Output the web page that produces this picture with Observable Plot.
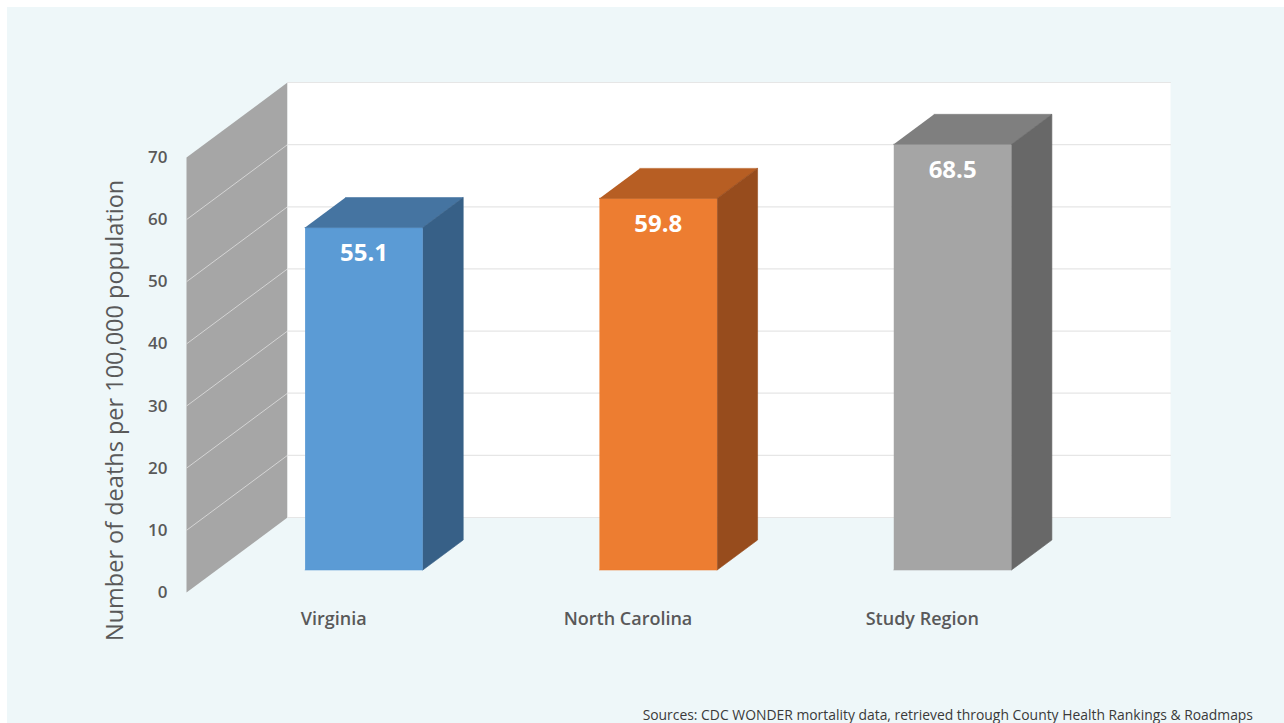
<!DOCTYPE html>
<html>
<head>
<meta charset="utf-8">
<script src="https://cdn.jsdelivr.net/npm/d3@7"></script>
<script src="https://cdn.jsdelivr.net/npm/@observablehq/plot@0.6"></script>
<style>
  html, body { margin: 0; padding: 0; background: #ffffff; }
  #panel { position: absolute; left: 7px; top: 7px; width: 1277px; height: 716px; background: #EEF7F9; }
  #chart { position: absolute; left: 0; top: 0; }
  #caption { position: absolute; right: 31px; top: 706px; font-family: "Open Sans", sans-serif; font-size: 13.9px; line-height: 18px; color: #3A3A3A; white-space: nowrap; }
</style>
</head>
<body>
<div id="panel"></div>
<div id="chart"></div>
<div id="caption">Sources: CDC WONDER mortality data, retrieved through County Health Rankings &amp; Roadmaps</div>
<script>
// ---- data ----
const categories = ["Virginia", "North Carolina", "Study Region"];
const values = [55.1, 59.8, 68.5];
const yTicks = [0, 10, 20, 30, 40, 50, 60, 70];
const yTitle = "Number of deaths per 100,000 population";
const frontColors = ["#5B9BD5", "#ED7D31", "#A5A5A5"];
const topColors = ["#4574A1", "#B75E23", "#7F7F7F"];
const sideColors = ["#376087", "#974C1D", "#686868"];

// ---- geometry (3D look) ----
const X_RANGE = [186, 1069];
const Y_RANGE = [592, 157];
const Y_MAX = 70;
const DEPTH_PX = [101, 75];        // full depth offset of the back wall, in px
const kx = (X_RANGE[1] - X_RANGE[0]) / categories.length;
const ky = (Y_RANGE[0] - Y_RANGE[1]) / Y_MAX;
const DX = DEPTH_PX[0] / kx;       // depth in x data units
const DY = DEPTH_PX[1] / ky;       // depth in y data units
const BAR_W = 0.4;
const D_FRONT = 0.3, D_BACK = 0.7;
const proj = (x, v, d) => ({x: x + d * DX, y: v + d * DY});

// polygons
const polys = [];
function addPoly(id, color, pts) {
  pts.forEach(p => polys.push({id, color, x: p.x, y: p.y}));
}
// side wall
addPoly("sidewall", "#A6A6A6", [proj(0, 0, 0), proj(0, Y_MAX, 0), proj(0, Y_MAX, 1), proj(0, 0, 1)]);
// back wall
addPoly("backwall", "#FFFFFF", [proj(0, 0, 1), proj(categories.length, 0, 1), proj(categories.length, Y_MAX, 1), proj(0, Y_MAX, 1)]);

// bars
const barRows = [];
categories.forEach((c, i) => {
  const v = values[i];
  const x1 = i + 0.5 - BAR_W / 2, x2 = i + 0.5 + BAR_W / 2;
  addPoly(c + "-front", frontColors[i], [proj(x1, 0, D_FRONT), proj(x2, 0, D_FRONT), proj(x2, v, D_FRONT), proj(x1, v, D_FRONT)]);
  addPoly(c + "-top", topColors[i], [proj(x1, v, D_FRONT), proj(x2, v, D_FRONT), proj(x2, v, D_BACK), proj(x1, v, D_BACK)]);
  addPoly(c + "-side", sideColors[i], [proj(x2, 0, D_FRONT), proj(x2, 0, D_BACK), proj(x2, v, D_BACK), proj(x2, v, D_FRONT)]);
  const lp = proj(i + 0.5, v, D_FRONT);
  barRows.push({x: lp.x, y: lp.y, text: v.toFixed(1)});
});

const wallPolys = polys.filter(p => p.id === "sidewall" || p.id === "backwall");
const barPolys = polys.filter(p => p.id !== "sidewall" && p.id !== "backwall");

// gridlines
const sideGrid = [], backGrid = [];
yTicks.forEach(t => {
  if (t > 0 && t < Y_MAX) {
    [proj(0, t, 0), proj(0, t, 1)].forEach(p => sideGrid.push({id: t, ...p}));
  }
  [proj(0, t, 1), proj(categories.length, t, 1)].forEach(p => backGrid.push({id: t, ...p}));
});

const font = '"Open Sans", sans-serif';

const chart = Plot.plot({
  width: 1284,
  height: 700,
  style: {background: "transparent", fontFamily: font},
  x: {type: "linear", domain: [0, categories.length], range: X_RANGE, axis: null},
  y: {type: "linear", domain: [0, Y_MAX], range: Y_RANGE, axis: null},
  color: {type: "identity"},
  marks: [
    Plot.line(wallPolys.filter(p => p.id === "sidewall"), {x: "x", y: "y", z: "id", fill: "color", stroke: "none"}),
    Plot.line(sideGrid, {x: "x", y: "y", z: "id", stroke: "#D4D4D4", strokeWidth: 1}),
    Plot.line(wallPolys.filter(p => p.id === "backwall"), {x: "x", y: "y", z: "id", fill: "color", stroke: "none"}),
    Plot.line(backGrid, {x: "x", y: "y", z: "id", stroke: "#E6E6E6", strokeWidth: 1.2}),
    Plot.line(barPolys, {x: "x", y: "y", z: "id", fill: "color", stroke: "color", strokeWidth: 0.6}),
    Plot.text(barRows, {x: "x", y: "y", text: "text", dy: 26, fill: "white", fontSize: 24, fontWeight: "bold", fontFamily: font}),
    Plot.text(yTicks, {x: 0, y: d => d, text: d => String(d), dx: -19, textAnchor: "end", fill: "#595959", fontSize: 17, fontWeight: 600, fontFamily: font}),
    Plot.text(categories, {x: (d, i) => i + 0.5, y: 0, text: d => d, dy: 27, fill: "#595959", fontSize: 18, fontWeight: 600, fontFamily: font}),
    Plot.text([yTitle], {x: 0, y: 29.3, text: d => d, dx: -71, rotate: -90, fill: "#595959", fontSize: 23.5, fontFamily: font})
  ]
});
document.getElementById("chart").appendChild(chart);
</script>
</body>
</html>
